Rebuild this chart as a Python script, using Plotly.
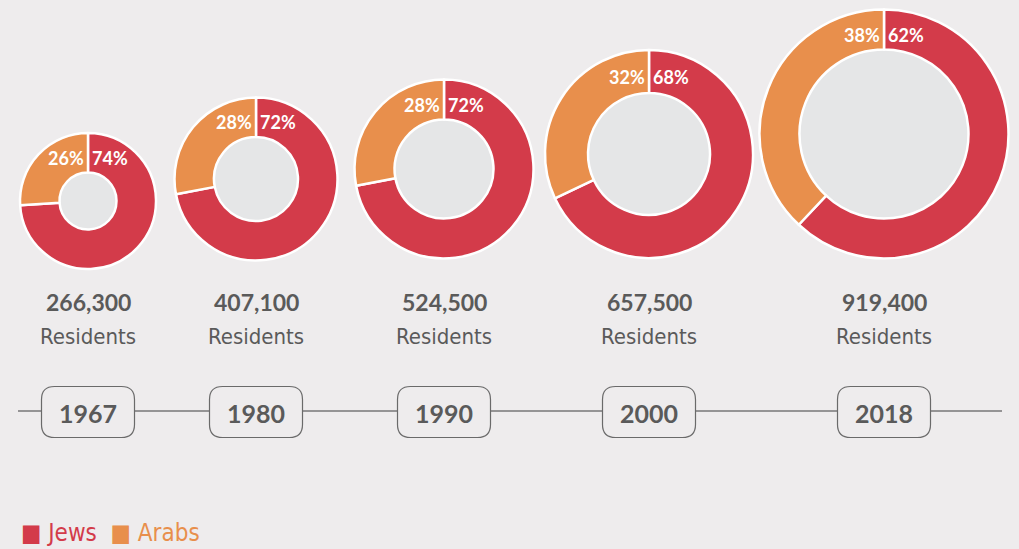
"""Donut timeline chart of residents by population group."""

import pandas as pd
import plotly.graph_objects as go

RED = "#D33B4A"
ORANGE = "#E88F4C"
HOLE = "#E5E6E7"
PAPER_BG = "#EEECED"
TEXT = "#5A5A5A"
LINE = "#777777"
WIDTH, HEIGHT = 1019, 549
BOLD_FONT = "Lato, Inter, sans-serif"
NARROW_FONT = "DejaVu Sans Condensed, DejaVu Sans, sans-serif"


def narrow(text: str) -> str:
    return f"<span style='font-stretch:condensed'>{text}</span>"


census = pd.DataFrame(
    {
        "year": [1967, 1980, 1990, 2000, 2018],
        "residents": [266300, 407100, 524500, 657500, 919400],
        "jews": [74, 72, 72, 68, 62],
        "arabs": [26, 28, 28, 32, 38],
        # donut placement in pixels: centre, outer radius, hole radius
        "cx": [88, 256, 444, 649, 884],
        "cy": [201, 179, 169, 154, 134],
        "radius": [68, 81.5, 89.5, 104, 124.5],
        "hole": [28.5, 42, 49.5, 61, 84.5],
    }
)


def _rounded_box(cx: float, cy: float, w: float = 93, h: float = 51, r: float = 13) -> str:
    x0, x1, y0, y1 = cx - w / 2, cx + w / 2, cy - h / 2, cy + h / 2
    return (
        f"M {x0 + r},{y0} L {x1 - r},{y0} Q {x1},{y0} {x1},{y0 + r} "
        f"L {x1},{y1 - r} Q {x1},{y1} {x1 - r},{y1} L {x0 + r},{y1} "
        f"Q {x0},{y1} {x0},{y1 - r} L {x0},{y0 + r} Q {x0},{y0} {x0 + r},{y0} Z"
    )


def donut_timeline(df: pd.DataFrame) -> go.Figure:
    """Render one donut per census year above a year timeline."""
    fig = go.Figure()
    for row in df.itertuples():
        fig.add_trace(
            go.Pie(
                values=[row.jews, row.arabs],
                labels=["Jews", "Arabs"],
                marker=dict(colors=[RED, ORANGE], line=dict(color="white", width=2.5)),
                hole=row.hole / row.radius,
                sort=False,
                direction="clockwise",
                textinfo="none",
                hoverinfo="label+percent",
                showlegend=False,
                domain=dict(
                    x=[(row.cx - row.radius) / WIDTH, (row.cx + row.radius) / WIDTH],
                    y=[1 - (row.cy + row.radius) / HEIGHT, 1 - (row.cy - row.radius) / HEIGHT],
                ),
            )
        )
        fig.add_shape(
            type="circle", xref="x", yref="y", layer="below",
            x0=row.cx - row.hole, x1=row.cx + row.hole,
            y0=row.cy - row.hole, y1=row.cy + row.hole,
            fillcolor=HOLE, line_width=0,
        )
        label_y = row.cy - (row.radius + row.hole) / 2 + 5
        fig.add_annotation(x=row.cx + 2, y=label_y, text=f"<b>{row.jews}%</b>", xanchor="left",
                           font=dict(family=BOLD_FONT, size=18, color="white"))
        fig.add_annotation(x=row.cx - 2, y=label_y, text=f"<b>{row.arabs}%</b>", xanchor="right",
                           font=dict(family=BOLD_FONT, size=18, color="white"))
        fig.add_annotation(x=row.cx, y=302, text=f"<b>{row.residents:,}</b>",
                           font=dict(family=BOLD_FONT, size=23, color=TEXT))
        fig.add_annotation(x=row.cx, y=336, text=narrow("Residents"),
                           font=dict(family=NARROW_FONT, size=22, color=TEXT))

    fig.add_shape(type="line", xref="x", yref="y", x0=18, x1=1002, y0=411, y1=411,
                  line=dict(color=LINE, width=1.5), layer="below")
    for row in df.itertuples():
        fig.add_shape(type="path", xref="x", yref="y", path=_rounded_box(row.cx, 412),
                      fillcolor=PAPER_BG, line=dict(color="#6A6A6A", width=1.2))
        fig.add_annotation(x=row.cx, y=413, text=f"<b>{row.year}</b>",
                           font=dict(family=BOLD_FONT, size=25, color=TEXT))

    fig.add_annotation(
        x=19, y=533, xanchor="left",
        text=narrow(f"<span style='color:{RED}'>■ Jews</span>  <span style='color:{ORANGE}'>■ Arabs</span>"),
        font=dict(family=NARROW_FONT, size=24),
    )
    fig.update_annotations(showarrow=False, xref="x", yref="y")
    fig.update_layout(
        width=WIDTH,
        height=HEIGHT,
        paper_bgcolor=PAPER_BG,
        plot_bgcolor=PAPER_BG,
        margin=dict(l=0, r=0, t=0, b=0),
        xaxis=dict(range=[0, WIDTH], visible=False, domain=[0, 1]),
        yaxis=dict(range=[HEIGHT, 0], visible=False, domain=[0, 1]),
    )
    return fig


fig = donut_timeline(census)
fig.write_html(
    "out.html",
    config={"displayModeBar": False},
    post_script="document.body.style.margin = '0';",
)
